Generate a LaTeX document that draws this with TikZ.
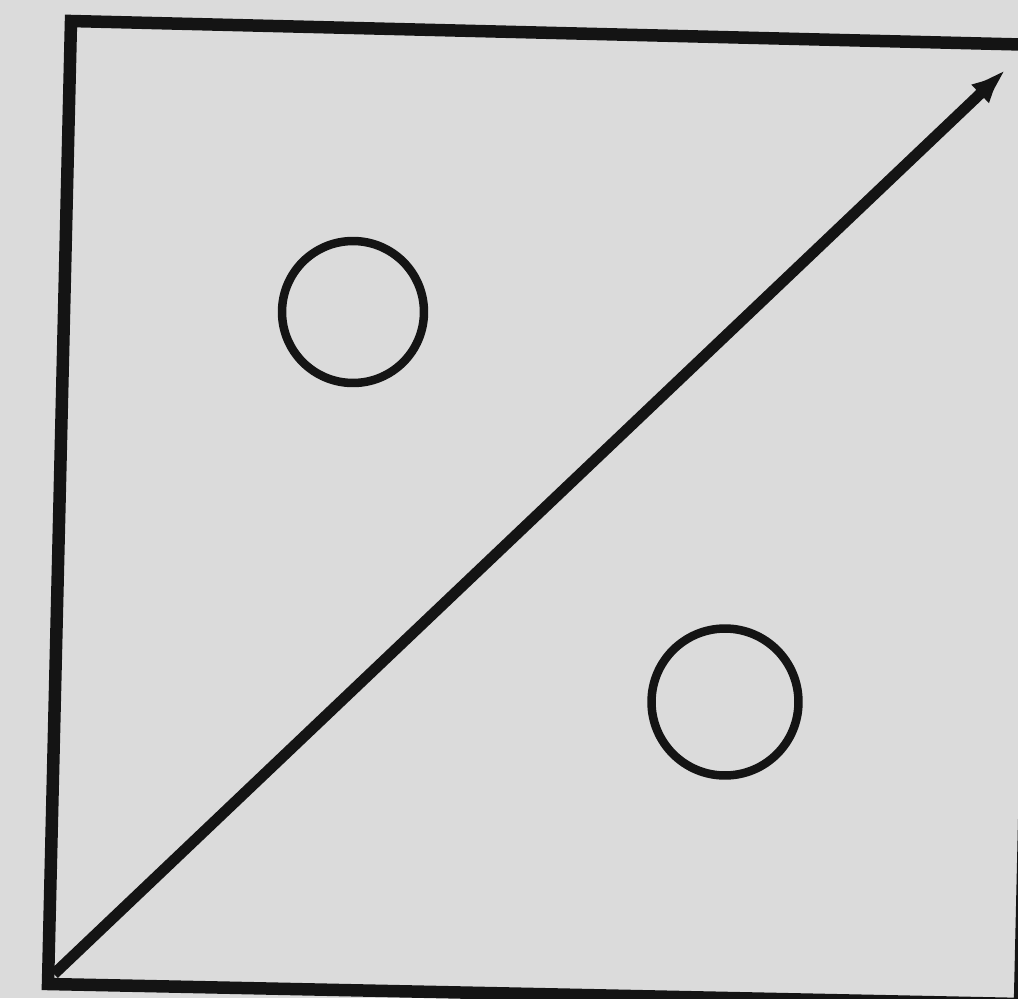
\documentclass[tikz,border=0pt]{standalone}
\usetikzlibrary{arrows.meta}
\definecolor{paper}{RGB}{219,219,219}
\definecolor{ink}{RGB}{20,20,20}
\begin{document}
\begin{tikzpicture}[x=0.02cm,y=-0.02cm,
  frameline/.style={draw=ink,line width=0.25cm,line join=miter},
  ringline/.style={circle,draw=ink,line width=0.17cm,minimum size=2.84cm,inner sep=0pt},
  diagline/.style={draw=ink,line width=0.22cm,-{Latex[length=1.1cm,width=0.45cm]}}]
\useasboundingbox (0,0) rectangle (1018,998);
\fill[paper] (0,0) rectangle (1018,998);
\clip (0,0) rectangle (1018,998);
\coordinate (TL) at (71,21);
\coordinate (TR) at (1042,45);
\coordinate (BR) at (1020,1004);
\coordinate (BL) at (48,984);
\coordinate (tip) at (1020,56);
\coordinate (start) at (54,974);
\draw[frameline] (TL) -- (TR) -- (BR) -- (BL) -- cycle;
\node[ringline] (c1) at (353,312) {};
\node[ringline,minimum size=2.94cm] (c2) at (725,702) {};
\draw[diagline] (start) -- (tip);
\end{tikzpicture}
\end{document}
